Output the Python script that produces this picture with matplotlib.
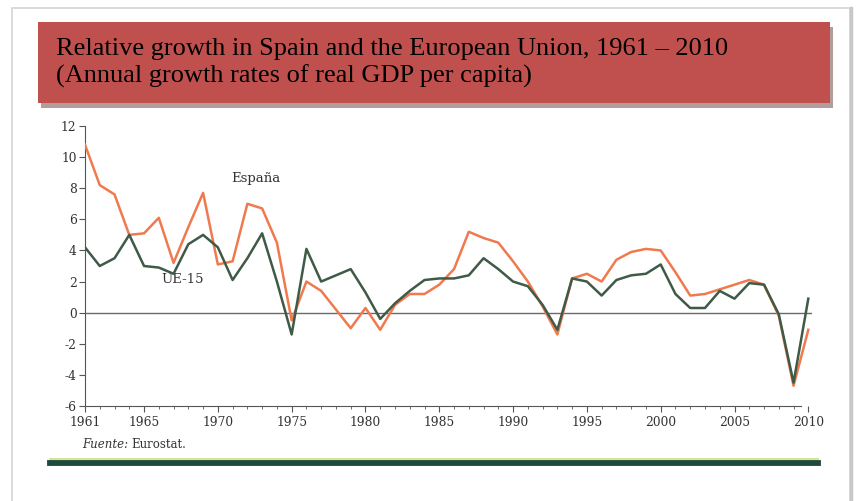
import numpy as np
import matplotlib.pyplot as plt
from matplotlib.patches import Rectangle
from matplotlib.lines import Line2D
from matplotlib.ticker import MultipleLocator

years = np.arange(1961, 2011)

espana = [10.8, 8.2, 7.6, 5.0, 5.1, 6.1, 3.2, 5.5, 7.7, 3.1,
          3.3, 7.0, 6.7, 4.5, -0.5, 2.0, 1.4, 0.2, -1.0, 0.3,
          -1.1, 0.5, 1.2, 1.2, 1.8, 2.8, 5.2, 4.8, 4.5, 3.3,
          2.0, 0.4, -1.4, 2.2, 2.5, 2.0, 3.4, 3.9, 4.1, 4.0,
          2.6, 1.1, 1.2, 1.5, 1.8, 2.1, 1.8, -0.2, -4.7, -1.1]

ue15 = [4.2, 3.0, 3.5, 5.0, 3.0, 2.9, 2.5, 4.4, 5.0, 4.2,
        2.1, 3.5, 5.1, 2.0, -1.4, 4.1, 2.0, 2.4, 2.8, 1.3,
        -0.4, 0.6, 1.4, 2.1, 2.2, 2.2, 2.4, 3.5, 2.8, 2.0,
        1.7, 0.5, -1.1, 2.2, 2.0, 1.1, 2.1, 2.4, 2.5, 3.1,
        1.2, 0.3, 0.3, 1.4, 0.9, 1.9, 1.8, -0.1, -4.5, 0.9]

xticks = [1961, 1965, 1970, 1975, 1980, 1985, 1990, 1995, 2000, 2005, 2010]
yticks = [-6, -4, -2, 0, 2, 4, 6, 8, 10, 12]

title = "Relative growth in Spain and the European Union, 1961 \u2013 2010\n(Annual growth rates of real GDP per capita)"

plt.rcParams["axes.unicode_minus"] = False

W, H = 861, 501
fig = plt.figure(figsize=(W / 100, H / 100), dpi=100)
fig.patch.set_facecolor("white")


def fx(px):
    return px / W


def fy(py):
    return 1 - py / H


# slide frame (bottom edge runs off the picture)
fig.add_artist(Rectangle((fx(12), fy(520)), fx(838), fy(8) - fy(520), transform=fig.transFigure,
                         facecolor="none", edgecolor="#d4d4d4", lw=1.2, clip_on=False))
fig.add_artist(Line2D([fx(851), fx(851)], [fy(8), fy(501)], transform=fig.transFigure,
                      color="#c8c8c8", lw=2.5))

# title box with shadow
fig.add_artist(Rectangle((fx(41), fy(108)), fx(792), fy(27) - fy(108), transform=fig.transFigure,
                         facecolor="#b39c9c", edgecolor="none"))
fig.add_artist(Rectangle((fx(38), fy(103)), fx(792), fy(22) - fy(103), transform=fig.transFigure,
                         facecolor="#c0504d", edgecolor="none"))
fig.text(fx(56), fy(63), title, family="Liberation Serif", fontsize=19,
         color="black", va="center", ha="left", linespacing=1.3)

ax = fig.add_axes([fx(85), fy(406), fx(812) - fx(85), fy(126) - fy(406)])
ax.set_facecolor("none")

ax.plot(years, espana, color="#f07a4e", lw=1.8, zorder=3)
ax.plot(years, ue15, color="#3f5a47", lw=1.8, zorder=4)
ax.axhline(0, color="#6a6a6a", lw=1.0, zorder=2)

ax.text(1972.6, 8.6, "Espa\u00f1a", family="DejaVu Serif", fontsize=9.5, color="#333333",
        ha="center", va="center")
ax.text(1967.6, 2.15, "UE-15", family="DejaVu Serif", fontsize=9.5, color="#333333",
        ha="center", va="center")

ax.set_xlim(1961, 2010.25)
ax.set_ylim(-6, 12)
ax.set_xticks(xticks)
ax.set_yticks(yticks)
ax.xaxis.set_minor_locator(MultipleLocator(1))
ax.spines["top"].set_visible(False)
ax.spines["right"].set_visible(False)
ax.spines["left"].set_color("#555555")
ax.spines["bottom"].set_color("#555555")
ax.spines["bottom"].set_bounds(1961, 2009.5)
ax.tick_params(axis="both", which="both", color="#555555", labelcolor="#333333", labelsize=8.8)
ax.tick_params(axis="y", length=4, pad=2)
ax.tick_params(axis="x", which="major", length=4, pad=3)
ax.tick_params(axis="x", which="minor", length=2.5)
for lab in ax.get_xticklabels() + ax.get_yticklabels():
    lab.set_family("DejaVu Serif")

# source note
fig.text(fx(82), fy(445), "Fuente:", family="DejaVu Serif", style="italic", fontsize=8.5,
         color="#333333", va="center", ha="left")
fig.text(fx(131), fy(445), "Eurostat.", family="DejaVu Serif", fontsize=8.5,
         color="#333333", va="center", ha="left")

# bottom rule
fig.add_artist(Line2D([fx(50), fx(818)], [fy(459), fy(459)], transform=fig.transFigure,
                      color="#c9e07e", lw=1.2))
fig.add_artist(Line2D([fx(50), fx(818)], [fy(463), fy(463)], transform=fig.transFigure,
                      color="#1d4a3a", lw=4.2))

fig.savefig("out.png", dpi=100)
